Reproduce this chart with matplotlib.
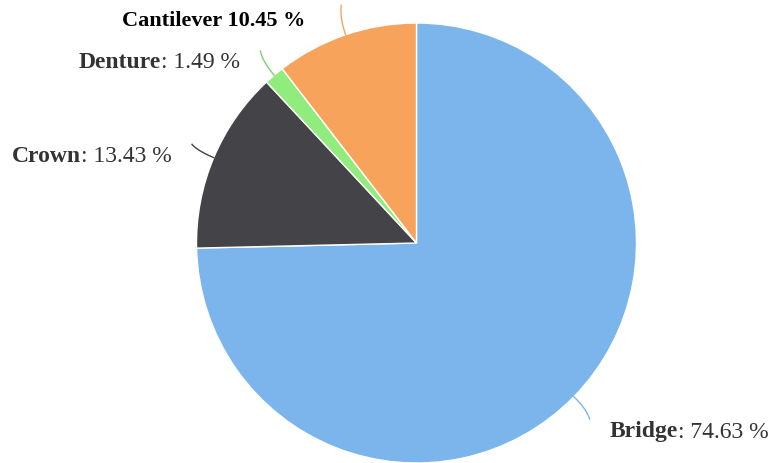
import numpy as np
import matplotlib.pyplot as plt

# ---- Data ----
labels = ["Bridge", "Crown", "Denture", "Cantilever"]
values = [74.63, 13.43, 1.49, 10.45]
colors = ["#7cb5ec", "#434348", "#90ed7d", "#f7a35c"]

# ---- Layout (pixel space, y measured from the top) ----
W, H = 771, 463
cx, cy, r = 416.5, 243, 220
# label anchor: (x, y_center, alignment)
label_pos = {
    "Bridge": (610, 432, "left"),
    "Crown": (172, 157, "right"),
    "Denture": (240, 63, "right"),
    "Cantilever": (305, 21, "right"),
}

plt.rcParams["font.family"] = ["Liberation Serif", "DejaVu Serif"]

fig = plt.figure(figsize=(W / 100, H / 100), dpi=100)
ax = fig.add_axes([0, 0, 1, 1])
ax.set_xlim(0, W)
ax.set_ylim(0, H)
ax.set_aspect("equal")
ax.axis("off")

wedges, _ = ax.pie(
    values,
    colors=colors,
    startangle=90,
    counterclock=False,
    center=(cx, H - cy),
    radius=r,
    wedgeprops=dict(edgecolor="white", linewidth=1),
)
ax.set_xlim(0, W)
ax.set_ylim(0, H)

# ---- Connectors ----
for w, col in zip(wedges, colors):
    mid = np.deg2rad((w.theta1 + w.theta2) / 2)
    d = np.array([np.cos(mid), np.sin(mid)])
    t = np.linspace(0, 1, 20)
    p0 = np.array([cx, H - cy]) + r * d
    p1 = np.array([cx, H - cy]) + (r + 18) * d
    p2 = np.array([cx, H - cy]) + (r + 29) * d + np.array([-5 * np.sign(d[0]), 2 * np.sign(d[1])])
    pts = ((1 - t) ** 2)[:, None] * p0 + (2 * (1 - t) * t)[:, None] * p1 + (t ** 2)[:, None] * p2
    ax.plot(pts[:, 0], pts[:, 1], color=col if col != "#90ed7d" else "#7fcf70", lw=1)

# ---- Labels ----
fs = 17
for name, val in zip(labels, values):
    x, y, align = label_pos[name]
    if name == "Cantilever":
        ax.text(x, H - y, f"{name} {val:.2f} %", fontsize=16, fontweight="bold",
                color="black", ha="right", va="center")
        continue
    rest = f": {val:.2f} %"
    if align == "left":
        t1 = ax.text(x, H - y, name, fontsize=fs, fontweight="bold", color="#333333",
                     ha="left", va="center")
        ax.annotate(rest, xy=(1, 0), xycoords=t1, fontsize=fs, color="#333333",
                    ha="left", va="bottom")
    else:
        t2 = ax.text(x, H - y, rest, fontsize=fs, color="#333333", ha="right", va="center")
        ax.annotate(name, xy=(0, 0), xycoords=t2, fontsize=fs, fontweight="bold",
                    color="#333333", ha="right", va="bottom")

plt.savefig("out.png", dpi=100)
